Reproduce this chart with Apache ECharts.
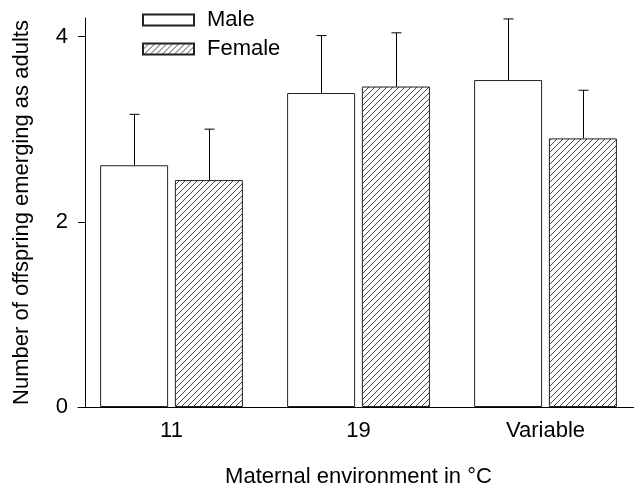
<!DOCTYPE html>
<html>
<head>
<meta charset="utf-8">
<script src="https://cdn.jsdelivr.net/npm/echarts@6/dist/echarts.min.js"></script>
<style>
  html, body { margin: 0; padding: 0; background: #fff; }
  #main { width: 634px; height: 484px; }
</style>
</head>
<body>
<div id="main"></div>
<script>
const categories = ['11', '19', 'Variable'];
const maleMean = [2.61, 3.39, 3.53];
const maleErr = [0.55, 0.62, 0.66];
const femaleMean = [2.45, 3.46, 2.90];
const femaleErr = [0.55, 0.58, 0.52];
const yTicks = [0, 2, 4];

const font = 'Liberation Sans, Arial, sans-serif';
const fs = 22;

// diagonal hatch for the female bars
const makeHatch = function () {
  const s = 6;
  const c = document.createElement('canvas');
  c.width = s;
  c.height = s;
  const ctx = c.getContext('2d');
  ctx.fillStyle = '#fff';
  ctx.fillRect(0, 0, s, s);
  ctx.strokeStyle = '#333';
  ctx.lineWidth = 0.9;
  ctx.beginPath();
  ctx.moveTo(-1, s + 1);
  ctx.lineTo(s + 1, -1);
  ctx.moveTo(-1, 1);
  ctx.lineTo(1, -1);
  ctx.moveTo(s - 1, s + 1);
  ctx.lineTo(s + 1, s - 1);
  ctx.stroke();
  return c;
};

const barW = 68;
const half = (barW + 7) / 2;

const errorSeries = function (name, means, errs, shift) {
  return {
    name: name + ' err',
    type: 'custom',
    z: 5,
    silent: true,
    data: means.map(function (m, i) { return [i, m, m + errs[i]]; }),
    renderItem: function (params, api) {
      const lo = api.coord([api.value(0), api.value(1)]);
      const hi = api.coord([api.value(0), api.value(2)]);
      const x = Math.round(lo[0] + shift) + 0.5;
      const style = { stroke: '#000', lineWidth: 1 };
      return {
        type: 'group',
        children: [
          { type: 'line', shape: { x1: x, y1: lo[1], x2: x, y2: hi[1] }, style: style },
          { type: 'line', shape: { x1: x - 5, y1: hi[1], x2: x + 5, y2: hi[1] }, style: style }
        ]
      };
    }
  };
};

const myChart = echarts.init(document.getElementById('main'));
const option = {
  animation: false,
  backgroundColor: '#fff',
  textStyle: { fontFamily: font, color: '#000' },
  legend: {
    orient: 'vertical',
    left: 142,
    top: 9,
    padding: 0,
    itemWidth: 51,
    itemHeight: 11,
    itemGap: 7,
    icon: 'rect',
    data: ['Male', 'Female'],
    textStyle: { fontFamily: font, fontSize: fs, color: '#000', padding: [0, 0, 0, 8] }
  },
  grid: {
    left: 78,
    right: -5,
    top: 18,
    bottom: 77,
    outerBoundsMode: 'none'
  },
  xAxis: {
    type: 'category',
    data: categories,
    name: 'Maternal environment in °C',
    nameLocation: 'middle',
    nameGap: 59,
    nameTextStyle: { fontFamily: font, fontSize: fs, color: '#000' },
    axisLine: { lineStyle: { color: '#000', width: 1 } },
    axisTick: { show: false },
    axisLabel: { fontFamily: font, fontSize: fs, color: '#000', margin: 13 }
  },
  yAxis: {
    type: 'value',
    min: 0,
    max: 4.2,
    offset: -7,
    splitLine: { show: false },
    name: 'Number of offspring emerging as adults',
    nameLocation: 'middle',
    nameGap: 52,
    nameTextStyle: { fontFamily: font, fontSize: fs, color: '#000' },
    axisLine: { show: true, lineStyle: { color: '#000', width: 1 } },
    axisTick: { show: true, length: 7, customValues: yTicks, lineStyle: { color: '#000' } },
    axisLabel: { fontFamily: font, fontSize: fs, color: '#000', margin: 17, customValues: yTicks }
  },
  series: [
    {
      name: 'Male',
      type: 'bar',
      barWidth: barW,
      barGap: '10%',
      data: maleMean,
      itemStyle: { color: '#fff', borderColor: '#222', borderWidth: 1 }
    },
    {
      name: 'Female',
      type: 'bar',
      barWidth: barW,
      barGap: '10%',
      data: femaleMean,
      itemStyle: {
        color: { image: makeHatch(), repeat: 'repeat' },
        borderColor: '#222',
        borderWidth: 1
      }
    },
    errorSeries('Male', maleMean, maleErr, -half),
    errorSeries('Female', femaleMean, femaleErr, half)
  ]
};
myChart.setOption(option);
</script>
</body>
</html>
